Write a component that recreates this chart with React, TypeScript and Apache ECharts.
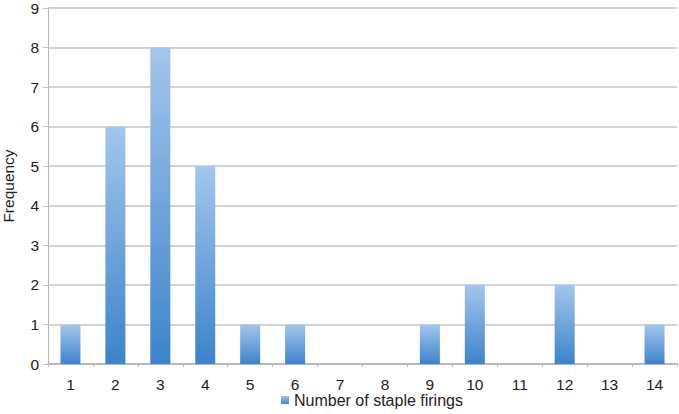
import React, { useEffect, useRef } from "react";
import * as echarts from "echarts";

const categories = ["1", "2", "3", "4", "5", "6", "7", "8", "9", "10", "11", "12", "13", "14"];
const frequencies = [1, 6, 8, 5, 1, 1, 0, 0, 1, 2, 0, 2, 0, 1];
const seriesName = "Number of staple firings";
const yAxisName = "Frequency";

export default function App() {
  const ref = useRef<HTMLDivElement>(null);
  useEffect(() => {
    const chart = echarts.init(ref.current!, null, { renderer: "svg" });
    const font = "Liberation Sans, Arial, sans-serif";
    chart.setOption({
      animation: false,
      backgroundColor: "#ffffff",
      grid: { left: 48, right: 2, top: 8, bottom: 50, containLabel: false, outerBoundsMode: "none" },
      legend: {
        bottom: 1,
        left: 276,
        itemWidth: 8,
        itemHeight: 8,
        itemGap: 4,
        icon: "rect",
        textStyle: { fontFamily: font, fontSize: 16, color: "#222" },
        data: [seriesName],
      },
      xAxis: {
        type: "category",
        data: categories,
        axisLine: { lineStyle: { color: "#b8b8b8", width: 2 } },
        axisTick: { show: true, inside: false, length: 3, lineStyle: { color: "#b8b8b8" } },
        axisLabel: { fontFamily: font, fontSize: 15.5, color: "#222", margin: 12 },
      },
      yAxis: {
        type: "value",
        min: 0,
        max: 9,
        interval: 1,
        name: yAxisName,
        nameLocation: "middle",
        nameGap: 32,
        nameTextStyle: { fontFamily: font, fontSize: 15.5, color: "#222" },
        axisLine: { show: true, lineStyle: { color: "#b8b8b8", width: 1 } },
        axisTick: { show: true, length: 5, lineStyle: { color: "#c4c4c4" } },
        axisLabel: { fontFamily: font, fontSize: 15.5, color: "#222", margin: 9 },
        splitLine: { lineStyle: { color: "#c4c4c4", width: 1.5 } },
      },
      series: [
        {
          name: seriesName,
          type: "bar",
          data: frequencies,
          barWidth: 20,
          itemStyle: {
            color: new echarts.graphic.LinearGradient(0, 0, 0, 1, [
              { offset: 0, color: "#a3c6ec" },
              { offset: 1, color: "#3c83cb" },
            ]),
            borderWidth: 0,
          },
        },
      ],
    });
    return () => chart.dispose();
  }, []);
  return <div ref={ref} style={{ width: 679, height: 414, position: "absolute", left: 0, top: 0 }} />;
}
